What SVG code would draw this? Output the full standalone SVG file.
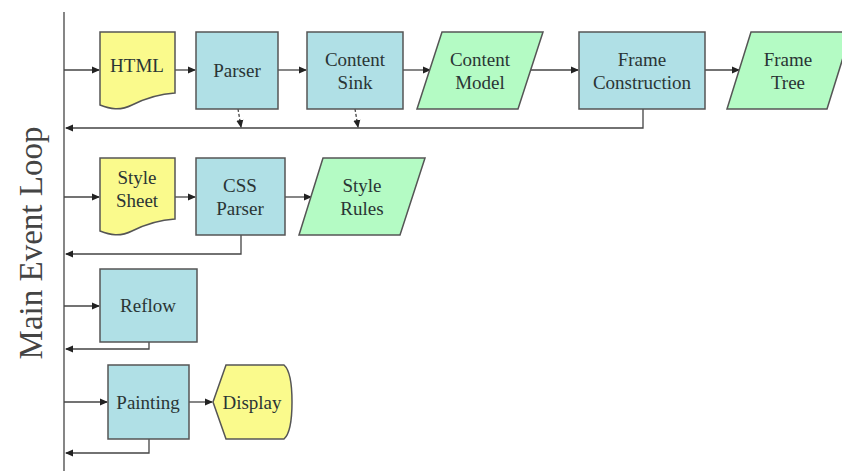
<svg xmlns="http://www.w3.org/2000/svg" width="842" height="471" viewBox="0 0 842 471">
<style>
.doc{fill:#fafa8c;stroke:#555;stroke-width:1.5}
.proc{fill:#b0e0e6;stroke:#555;stroke-width:1.5}
.data{fill:#b4fbc4;stroke:#555;stroke-width:1.5}
.lbl{font-family:"Liberation Serif","Times New Roman",serif;font-size:19px;fill:#2a3535;text-anchor:middle}
.c{fill:none;stroke:#444;stroke-width:1.3}
</style>
<defs>
<marker id="ah" markerWidth="8" markerHeight="8" refX="7" refY="4" orient="auto" markerUnits="userSpaceOnUse">
<path d="M0,0.5 L8,4 L0,7.5 Z" fill="#222"/>
</marker>
</defs>
<rect width="842" height="471" fill="#fff"/>
<text x="0" y="0" transform="translate(42,243) rotate(-90)" font-family="Liberation Serif,Times New Roman,serif" font-size="33" fill="#444" text-anchor="middle">Main Event Loop</text>
<g id="connectors">
<line class="c" x1="64" y1="12" x2="64" y2="471"/>
<line class="c" x1="64" y1="70" x2="99" y2="70" marker-end="url(#ah)"/>
<line class="c" x1="175" y1="70" x2="195" y2="70" marker-end="url(#ah)"/>
<line class="c" x1="278" y1="70" x2="306" y2="70" marker-end="url(#ah)"/>
<line class="c" x1="403" y1="70" x2="430" y2="70" marker-end="url(#ah)"/>
<line class="c" x1="530" y1="70" x2="578" y2="70" marker-end="url(#ah)"/>
<line class="c" x1="705" y1="70" x2="739" y2="70" marker-end="url(#ah)"/>
<polyline class="c" points="643,109 643,128 66,128" marker-end="url(#ah)"/>
<line class="c" x1="238" y1="109" x2="241" y2="127" stroke-dasharray="3,2" marker-end="url(#ah)"/>
<line class="c" x1="355" y1="109" x2="358" y2="127" stroke-dasharray="3,2" marker-end="url(#ah)"/>
<line class="c" x1="64" y1="197" x2="99" y2="197" marker-end="url(#ah)"/>
<line class="c" x1="175" y1="197" x2="195" y2="197" marker-end="url(#ah)"/>
<line class="c" x1="285" y1="197" x2="311" y2="197" marker-end="url(#ah)"/>
<polyline class="c" points="241,235 241,254 66,254" marker-end="url(#ah)"/>
<line class="c" x1="64" y1="306" x2="99" y2="306" marker-end="url(#ah)"/>
<polyline class="c" points="149,342 149,349 66,349" marker-end="url(#ah)"/>
<line class="c" x1="64" y1="402" x2="107" y2="402" marker-end="url(#ah)"/>
<line class="c" x1="189" y1="402" x2="212" y2="402" marker-end="url(#ah)"/>
<polyline class="c" points="149,439 149,453 66,453" marker-end="url(#ah)"/>
</g>
<g id="html">
<path class="doc" d="M100,32 H175 V93 C158,94 142,100 132,105 C120,111 110,109 100,105 Z"/>
<text class="lbl" x="137" y="72">HTML</text>
</g>
<g id="parser">
<rect class="proc" x="196" y="32" width="82" height="77"/>
<text class="lbl" x="237" y="77">Parser</text>
</g>
<g id="contentsink">
<rect class="proc" x="307" y="32" width="96" height="77"/>
<text class="lbl" x="355" y="66">Content</text>
<text class="lbl" x="355" y="89">Sink</text>
</g>
<g id="contentmodel">
<path class="data" d="M442,32 H543 L518,109 H417 Z"/>
<text class="lbl" x="480" y="66">Content</text>
<text class="lbl" x="480" y="89">Model</text>
</g>
<g id="frameconstruction">
<rect class="proc" x="579" y="32" width="126" height="77"/>
<text class="lbl" x="642" y="66">Frame</text>
<text class="lbl" x="642" y="89">Construction</text>
</g>
<g id="frametree">
<path class="data" d="M751,32 H851 L827,109 H727 Z"/>
<text class="lbl" x="788" y="66">Frame</text>
<text class="lbl" x="788" y="89">Tree</text>
</g>
<g id="stylesheet">
<path class="doc" d="M100,158 H175 V219 C158,220 142,226 132,231 C120,237 110,235 100,231 Z"/>
<text class="lbl" x="137" y="184">Style</text>
<text class="lbl" x="137" y="207">Sheet</text>
</g>
<g id="cssparser">
<rect class="proc" x="196" y="158" width="89" height="77"/>
<text class="lbl" x="240" y="192">CSS</text>
<text class="lbl" x="240" y="215">Parser</text>
</g>
<g id="stylerules">
<path class="data" d="M323,158 H425 L400,235 H299 Z"/>
<text class="lbl" x="362" y="192">Style</text>
<text class="lbl" x="362" y="215">Rules</text>
</g>
<g id="reflow">
<rect class="proc" x="100" y="269" width="97" height="73"/>
<text class="lbl" x="148" y="312">Reflow</text>
</g>
<g id="painting">
<rect class="proc" x="108" y="365" width="81" height="74"/>
<text class="lbl" x="148" y="409">Painting</text>
</g>
<g id="display">
<path class="doc" d="M213,402 L226,365 H284 Q292,372 292,402 Q292,432 284,439 H226 Z"/>
<text class="lbl" x="252" y="409">Display</text>
</g>
</svg>
